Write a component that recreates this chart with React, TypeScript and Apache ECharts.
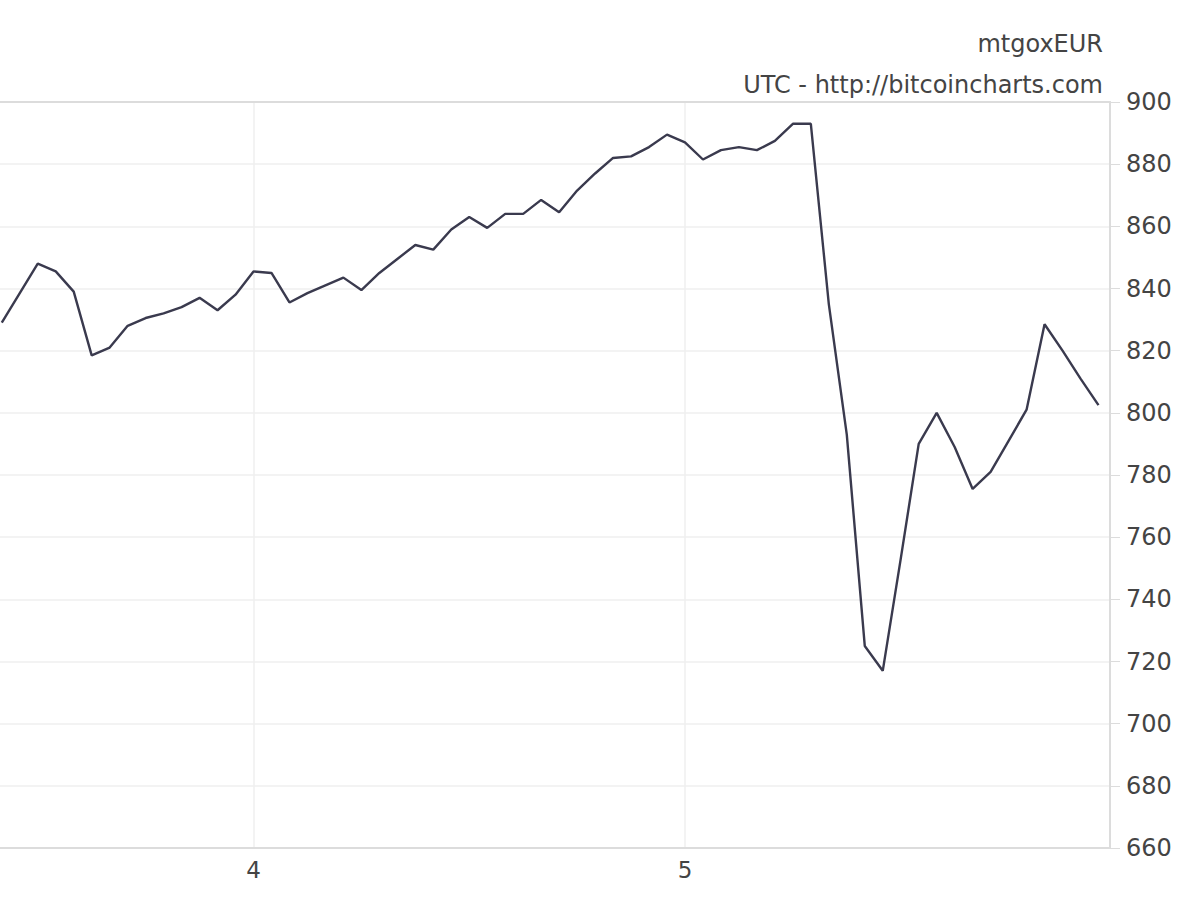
import { useEffect, useRef } from "react";
import * as echarts from "echarts";

// hours relative to day 4 00:00 UTC
const hours = [
  -14, -13, -12, -11, -10, -9, -8, -7, -6, -5, -4, -3, -2, -1,
  0, 1, 2, 3, 4, 5, 6, 7, 8, 9, 10, 11, 12, 13, 14, 15, 16, 17, 18, 19, 20, 21, 22, 23,
  24, 25, 26, 27, 28, 29, 30, 31, 32, 33, 34, 35, 36, 37, 38, 39, 40, 41, 42, 43, 44, 45, 46, 47,
];

const prices = [
  829, 838.5, 848, 845.5, 839, 818.5, 821, 828, 830.5, 832, 834, 837, 833, 838,
  845.5, 845, 835.5, 838.5, 841, 843.5, 839.5, 845, 849.5, 854, 852.5, 859, 863, 859.5,
  864, 864, 868.5, 864.5, 871.5, 877, 882, 882.5, 885.5, 889.5,
  887, 881.5, 884.5, 885.5, 884.5, 887.5, 893, 893, 835, 793, 725, 717, 753, 790,
  800, 789, 775.5, 781, 791, 801, 828.5, 820, 811, 802.5,
];

const dayTicks = [0, 24];
const dayLabels = ["4", "5"];

const market = "mtgoxEUR";
const source = "UTC - http://bitcoincharts.com";

const FONT = "DejaVu Sans";
const TEXT = "#444";
const BORDER = "#dcdcdc";
const GRID = "#efefef";

export default function App() {
  const ref = useRef<HTMLDivElement>(null);

  useEffect(() => {
    if (!ref.current) return;
    const chart = echarts.init(ref.current, null, { renderer: "svg" });

    chart.setOption({
      animation: false,
      backgroundColor: "#fff",
      title: [
        {
          text: market,
          right: 92,
          top: 27,
          textStyle: { color: TEXT, fontFamily: FONT, fontSize: 24, fontWeight: "normal" },
        },
        {
          text: source,
          right: 92,
          top: 68,
          textStyle: { color: TEXT, fontFamily: FONT, fontSize: 24, fontWeight: "normal" },
        },
      ],
      grid: { left: 0, right: 90, top: 102, bottom: 52 },
      xAxis: [
        {
          type: "value",
          min: -14.1,
          max: 47.64,
          axisLine: { show: true, onZero: false, lineStyle: { color: BORDER, width: 2 } },
          axisTick: { show: false, customValues: dayTicks },
          axisLabel: {
            customValues: dayTicks,
            margin: 10,
            color: TEXT,
            fontFamily: FONT,
            fontSize: 23,
            formatter: (v: number) => dayLabels[dayTicks.indexOf(v)] ?? "",
          },
          splitLine: { show: true, lineStyle: { color: GRID, width: 1.5 } },
        },
        {
          type: "value",
          position: "top",
          min: -14.1,
          max: 47.64,
          axisLine: { show: true, onZero: false, lineStyle: { color: BORDER, width: 2 } },
          axisTick: { show: false },
          axisLabel: { show: false },
          splitLine: { show: false },
        },
      ],
      yAxis: {
        type: "value",
        position: "right",
        min: 660,
        max: 900,
        interval: 20,
        axisLine: { show: true, onZero: false, lineStyle: { color: BORDER, width: 2 } },
        axisTick: { show: true, length: 10, lineStyle: { color: BORDER } },
        axisLabel: { margin: 16, color: TEXT, fontFamily: FONT, fontSize: 24 },
        splitLine: { show: true, lineStyle: { color: GRID, width: 1.5 } },
      },
      series: [
        {
          type: "line",
          data: hours.map((h, i) => [h, prices[i]]),
          showSymbol: false,
          clip: true,
          lineStyle: { color: "#3a3a4e", width: 2.4 },
        },
      ],
    });

    return () => chart.dispose();
  }, []);

  return (
    <div
      ref={ref}
      style={{ position: "fixed", left: 0, top: 0, width: 1200, height: 900 }}
    />
  );
}
